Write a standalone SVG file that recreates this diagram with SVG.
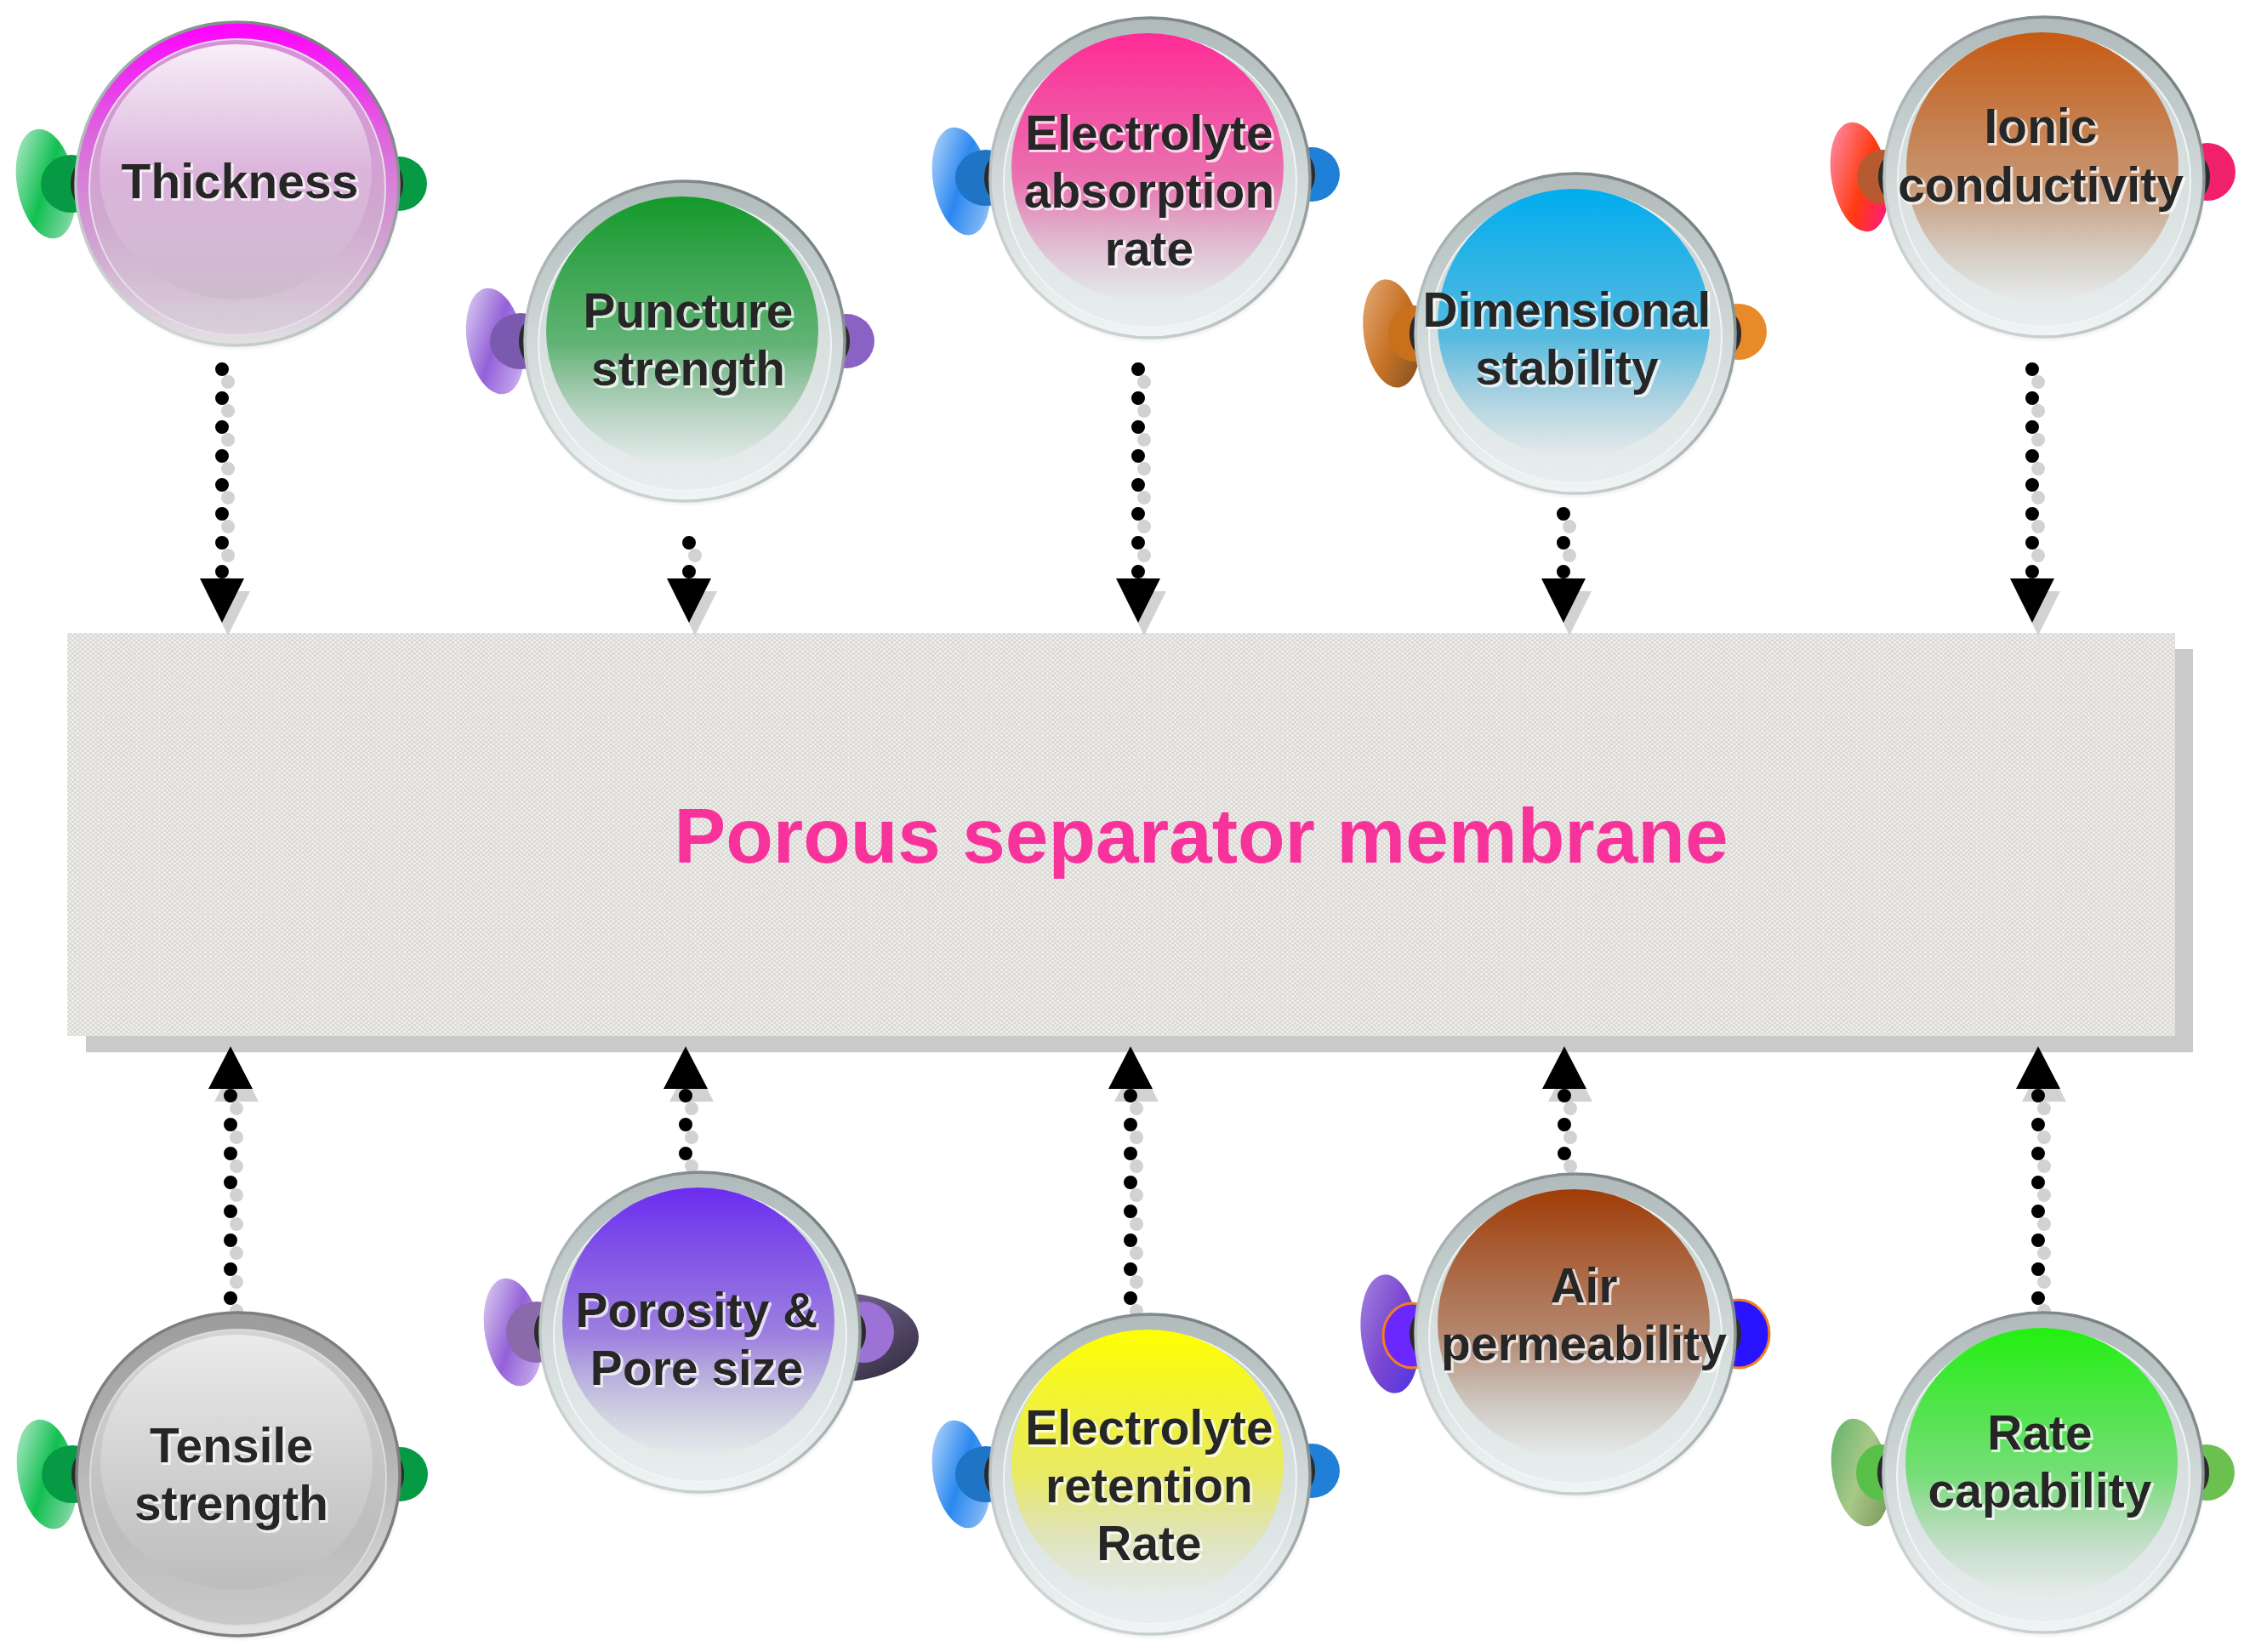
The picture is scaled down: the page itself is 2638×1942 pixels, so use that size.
<svg xmlns="http://www.w3.org/2000/svg" width="2638" height="1942" viewBox="0 0 2638 1942">
<defs>
<style>
.lbl{font-family:"Liberation Sans",Arial,Helvetica,sans-serif;font-weight:bold;font-size:57px;fill:#262626;text-anchor:middle;filter:url(#tglow)}
.title{font-family:"Liberation Sans",Arial,Helvetica,sans-serif;font-weight:bold;font-size:91px;fill:#f7339b;text-anchor:middle}
.ring{fill:url(#gRing);stroke:url(#gEdge);stroke-width:3.5}
.body{fill:url(#gBody);stroke:#f0f5f5;stroke-width:2}
.blk{fill:#2b2b2b}
.dots{fill:none;stroke:#000;stroke-width:16;stroke-linecap:round;stroke-dasharray:0 34}
.sh .dots{stroke:#d2d2d2}
.head{fill:#000}
.sh .head{fill:#d2d2d2}
</style>
<filter id="tglow" x="-10%" y="-30%" width="120%" height="160%">
<feMorphology in="SourceAlpha" operator="dilate" radius="1.2" result="d"/>
<feOffset in="d" dx="2" dy="2" result="o"/>
<feFlood flood-color="#ffffff" flood-opacity="0.75"/>
<feComposite in2="o" operator="in" result="w"/>
<feMerge><feMergeNode in="w"/><feMergeNode in="SourceGraphic"/></feMerge>
</filter>
<pattern id="pores" width="6" height="5.2" patternUnits="userSpaceOnUse">
<rect width="6" height="5.2" fill="#dbd9d5"/>
<circle cx="1.5" cy="1.3" r="1.3" fill="#f7f6f4"/>
<circle cx="4.5" cy="3.9" r="1.3" fill="#f7f6f4"/>
</pattern>
<linearGradient id="gEdge" x1="0.85" y1="0" x2="0.15" y2="1">
<stop offset="0" stop-color="#6c7676"/><stop offset="0.45" stop-color="#a3adad"/><stop offset="1" stop-color="#d5dcdc"/>
</linearGradient>
<linearGradient id="gRing" x1="0" y1="0" x2="0" y2="1">
<stop offset="0" stop-color="#b0baba"/><stop offset="0.5" stop-color="#d0d8d8"/><stop offset="1" stop-color="#f0f4f4"/>
</linearGradient>
<linearGradient id="gBody" x1="0" y1="0" x2="0" y2="1">
<stop offset="0" stop-color="#c8d2d2"/><stop offset="0.6" stop-color="#dbe2e2"/><stop offset="1" stop-color="#e8eeee"/>
</linearGradient>
<radialGradient id="gShadow" cx="0.5" cy="0.5" r="0.5">
<stop offset="0.9" stop-color="#9a9a9a" stop-opacity="0.5"/><stop offset="1" stop-color="#9a9a9a" stop-opacity="0"/>
</radialGradient>
<linearGradient id="gRingTh" x1="0" y1="0" x2="0" y2="1">
<stop offset="0" stop-color="#ff00ff"/><stop offset="0.35" stop-color="#dd66dd"/><stop offset="0.7" stop-color="#cfa6cf"/><stop offset="1" stop-color="#e2e2e2"/>
</linearGradient>
<linearGradient id="gBodyTh" x1="0" y1="0" x2="0" y2="1">
<stop offset="0" stop-color="#d890d8"/><stop offset="0.6" stop-color="#d0a8d0"/><stop offset="1" stop-color="#d8d0d8"/>
</linearGradient>
<linearGradient id="inTh" x1="0" y1="0" x2="0" y2="1">
<stop offset="0" stop-color="#f7eff7"/><stop offset="0.5" stop-color="#dcb4dc"/><stop offset="1" stop-color="#cdbccd"/>
</linearGradient>
<linearGradient id="gRingTe" x1="0" y1="0" x2="0" y2="1">
<stop offset="0" stop-color="#9c9c9c"/><stop offset="0.5" stop-color="#b8b8b8"/><stop offset="1" stop-color="#e4e4e4"/>
</linearGradient>
<linearGradient id="gBodyTe" x1="0" y1="0" x2="0" y2="1">
<stop offset="0" stop-color="#d4d4d4"/><stop offset="0.7" stop-color="#bdbdbd"/><stop offset="1" stop-color="#c8c8c8"/>
</linearGradient>
<linearGradient id="inTe" x1="0" y1="0" x2="0" y2="1">
<stop offset="0" stop-color="#ebebeb"/><stop offset="0.6" stop-color="#cdcdcd"/><stop offset="1" stop-color="#bdbdbd"/>
</linearGradient>
<linearGradient id="inPu" x1="0" y1="0" x2="0" y2="1"><stop offset="0" stop-color="#14992a"/><stop offset="0.55" stop-color="#3aa552" stop-opacity="0.75"/><stop offset="0.85" stop-color="#6fae80" stop-opacity="0.25"/><stop offset="1" stop-color="#6fae80" stop-opacity="0"/></linearGradient>
<linearGradient id="inEa" x1="0" y1="0" x2="0" y2="1"><stop offset="0" stop-color="#ff2b96"/><stop offset="0.55" stop-color="#f04ea0" stop-opacity="0.75"/><stop offset="0.85" stop-color="#e07ab0" stop-opacity="0.25"/><stop offset="1" stop-color="#e07ab0" stop-opacity="0"/></linearGradient>
<linearGradient id="inDi" x1="0" y1="0" x2="0" y2="1"><stop offset="0" stop-color="#00adef"/><stop offset="0.55" stop-color="#2aaee0" stop-opacity="0.75"/><stop offset="0.85" stop-color="#60b4d8" stop-opacity="0.25"/><stop offset="1" stop-color="#60b4d8" stop-opacity="0"/></linearGradient>
<linearGradient id="inIo" x1="0" y1="0" x2="0" y2="1"><stop offset="0" stop-color="#c65a12"/><stop offset="0.55" stop-color="#c27a48" stop-opacity="0.75"/><stop offset="0.85" stop-color="#c09070" stop-opacity="0.25"/><stop offset="1" stop-color="#c09070" stop-opacity="0"/></linearGradient>
<linearGradient id="inPo" x1="0" y1="0" x2="0" y2="1"><stop offset="0" stop-color="#6a2cf0"/><stop offset="0.55" stop-color="#8a60e0" stop-opacity="0.75"/><stop offset="0.85" stop-color="#a090d0" stop-opacity="0.25"/><stop offset="1" stop-color="#a090d0" stop-opacity="0"/></linearGradient>
<linearGradient id="inEr" x1="0" y1="0" x2="0" y2="1"><stop offset="0" stop-color="#ffff00"/><stop offset="0.55" stop-color="#eeee40" stop-opacity="0.75"/><stop offset="0.85" stop-color="#e0e080" stop-opacity="0.25"/><stop offset="1" stop-color="#e0e080" stop-opacity="0"/></linearGradient>
<linearGradient id="inAi" x1="0" y1="0" x2="0" y2="1"><stop offset="0" stop-color="#a03c06"/><stop offset="0.55" stop-color="#a86a4a" stop-opacity="0.75"/><stop offset="0.85" stop-color="#b09080" stop-opacity="0.25"/><stop offset="1" stop-color="#b09080" stop-opacity="0"/></linearGradient>
<linearGradient id="inRa" x1="0" y1="0" x2="0" y2="1"><stop offset="0" stop-color="#22f010"/><stop offset="0.55" stop-color="#55dd55" stop-opacity="0.75"/><stop offset="0.85" stop-color="#90cc90" stop-opacity="0.25"/><stop offset="1" stop-color="#90cc90" stop-opacity="0"/></linearGradient>
<linearGradient id="earG" x1="0" y1="0" x2="1" y2="1"><stop offset="0" stop-color="#22c060" stop-opacity="0.25"/><stop offset="0.5" stop-color="#10c050"/><stop offset="0.8" stop-color="#30c068" stop-opacity="0.7"/><stop offset="1" stop-color="#30c068" stop-opacity="0.2"/></linearGradient>
<linearGradient id="earP" x1="0" y1="0" x2="1" y2="1"><stop offset="0" stop-color="#9a70d8" stop-opacity="0.25"/><stop offset="0.5" stop-color="#9460d8"/><stop offset="0.8" stop-color="#a070e0" stop-opacity="0.7"/><stop offset="1" stop-color="#a070e0" stop-opacity="0.2"/></linearGradient>
<linearGradient id="earB" x1="0" y1="0" x2="1" y2="1"><stop offset="0" stop-color="#2a88f0" stop-opacity="0.25"/><stop offset="0.5" stop-color="#2a88f0"/><stop offset="0.8" stop-color="#3a90f0" stop-opacity="0.7"/><stop offset="1" stop-color="#3a90f0" stop-opacity="0.2"/></linearGradient>
<linearGradient id="earO" x1="0" y1="0" x2="1" y2="1"><stop offset="0" stop-color="#e8b080"/><stop offset="0.5" stop-color="#c87428"/><stop offset="1" stop-color="#7a4a20"/></linearGradient>
<linearGradient id="earR" x1="0" y1="0" x2="1" y2="1"><stop offset="0" stop-color="#ff9ac0"/><stop offset="0.55" stop-color="#ff3a10"/><stop offset="1" stop-color="#ff10a0"/></linearGradient>
<linearGradient id="earV" x1="0" y1="0" x2="1" y2="1"><stop offset="0" stop-color="#a888e0"/><stop offset="0.5" stop-color="#7a48d0"/><stop offset="1" stop-color="#4a30e8"/></linearGradient>
<linearGradient id="earL" x1="0" y1="0" x2="1" y2="1"><stop offset="0" stop-color="#58b068"/><stop offset="0.5" stop-color="#a8c888"/><stop offset="1" stop-color="#709050"/></linearGradient>
<linearGradient id="porR" x1="0" y1="0" x2="1" y2="1"><stop offset="0" stop-color="#8a7aa8"/><stop offset="0.6" stop-color="#54496a"/><stop offset="1" stop-color="#2e2838"/></linearGradient>
</defs>

<rect width="2638" height="1942" fill="#ffffff"/>

<g id="membrane">
<rect x="101" y="763" width="2477" height="474" fill="#cacaca"/>
<rect x="79" y="744" width="2478" height="474" fill="url(#pores)"/>
<text class="title" x="1412" y="1014">Porous separator membrane</text>
</g>

<g id="connectors">
<g class="sh" transform="translate(7,15)">
<path class="dots" d="M261 672V420"/><polygon class="head" points="235,680 287,680 261,732"/>
<path class="dots" d="M810 672V607"/><polygon class="head" points="784,680 836,680 810,732"/>
<path class="dots" d="M1338 672V410"/><polygon class="head" points="1312,680 1364,680 1338,732"/>
<path class="dots" d="M1838 672V598"/><polygon class="head" points="1812,680 1864,680 1838,732"/>
<path class="dots" d="M2389 672V420"/><polygon class="head" points="2363,680 2415,680 2389,732"/>
<path class="dots" d="M271 1288V1530"/><polygon class="head" points="271,1230 245,1280 297,1280"/>
<path class="dots" d="M806 1288V1362"/><polygon class="head" points="806,1230 780,1280 832,1280"/>
<path class="dots" d="M1329 1288V1530"/><polygon class="head" points="1329,1230 1303,1280 1355,1280"/>
<path class="dots" d="M1839 1288V1360"/><polygon class="head" points="1839,1230 1813,1280 1865,1280"/>
<path class="dots" d="M2396 1288V1530"/><polygon class="head" points="2396,1230 2370,1280 2422,1280"/>
</g>
<g>
<path class="dots" d="M261 672V420"/><polygon class="head" points="235,680 287,680 261,732"/>
<path class="dots" d="M810 672V607"/><polygon class="head" points="784,680 836,680 810,732"/>
<path class="dots" d="M1338 672V410"/><polygon class="head" points="1312,680 1364,680 1338,732"/>
<path class="dots" d="M1838 672V598"/><polygon class="head" points="1812,680 1864,680 1838,732"/>
<path class="dots" d="M2389 672V420"/><polygon class="head" points="2363,680 2415,680 2389,732"/>
<path class="dots" d="M271 1288V1530"/><polygon class="head" points="271,1230 245,1280 297,1280"/>
<path class="dots" d="M806 1288V1362"/><polygon class="head" points="806,1230 780,1280 832,1280"/>
<path class="dots" d="M1329 1288V1530"/><polygon class="head" points="1329,1230 1303,1280 1355,1280"/>
<path class="dots" d="M1839 1288V1360"/><polygon class="head" points="1839,1230 1813,1280 1865,1280"/>
<path class="dots" d="M2396 1288V1530"/><polygon class="head" points="2396,1230 2370,1280 2422,1280"/>
</g>
</g>

<g id="node-thickness" transform="translate(279,216)">
<ellipse cx="-225" cy="0" rx="34" ry="65" transform="rotate(-10 -225 0)" fill="url(#earG)"/>
<ellipse cx="-195" cy="0" rx="36" ry="34" fill="#079a45"/>
<ellipse cx="-182" cy="0" rx="14" ry="25" class="blk"/>
<ellipse cx="190" cy="0" rx="33" ry="32" fill="#079a45"/>
<ellipse cx="181" cy="0" rx="14" ry="24" class="blk"/>
<circle cx="2" cy="5" r="192" fill="url(#gShadow)"/>
<circle r="190" fill="url(#gRingTh)" stroke="url(#gEdge)" stroke-width="3.5"/>
<circle cy="4" r="174" fill="url(#gBodyTh)" stroke="#eadcea" stroke-width="2"/>
<ellipse cx="-2" cy="-14" rx="160" ry="150" fill="url(#inTh)"/>
<text class="lbl" x="3" y="17">Thickness</text>
</g>

<g id="node-puncture" transform="translate(805,401)">
<ellipse cx="-223" cy="0" rx="33" ry="63" transform="rotate(-10 -223 0)" fill="url(#earP)"/>
<ellipse cx="-193" cy="0" rx="36" ry="33" fill="#7a5aae"/>
<ellipse cx="-181" cy="0" rx="14" ry="25" class="blk"/>
<ellipse cx="190" cy="0" rx="33" ry="32" fill="#8a62c4"/>
<ellipse cx="180" cy="0" rx="14" ry="24" class="blk"/>
<circle cx="2" cy="5" r="190" fill="url(#gShadow)"/>
<circle r="188" class="ring"/>
<circle cy="4" r="172" class="body"/>
<ellipse cx="-3" cy="-12" rx="160" ry="158" fill="url(#inPu)"/>
<text class="lbl" x="4" y="-16">Puncture</text>
<text class="lbl" x="4" y="52">strength</text>
</g>

<g id="node-electrolyte-absorption" transform="translate(1352,209)">
<ellipse cx="-222" cy="4" rx="33" ry="64" transform="rotate(-10 -222 4)" fill="url(#earB)"/>
<ellipse cx="-193" cy="0" rx="36" ry="33" fill="#1f74c6"/>
<ellipse cx="-181" cy="0" rx="14" ry="25" class="blk"/>
<ellipse cx="190" cy="-4" rx="33" ry="32" fill="#2080d8"/>
<ellipse cx="180" cy="-4" rx="14" ry="24" class="blk"/>
<circle cx="2" cy="5" r="190" fill="url(#gShadow)"/>
<circle r="188" class="ring"/>
<circle cy="4" r="172" class="body"/>
<ellipse cx="-3" cy="-12" rx="160" ry="158" fill="url(#inEa)"/>
<text class="lbl" x="-1" y="-33">Electrolyte</text>
<text class="lbl" x="-1" y="35">absorption</text>
<text class="lbl" x="-1" y="103">rate</text>
</g>

<g id="node-dimensional" transform="translate(1852,392)">
<ellipse cx="-216" cy="0" rx="33" ry="64" transform="rotate(-8 -216 0)" fill="url(#earO)"/>
<ellipse cx="-190" cy="0" rx="30" ry="33" fill="#c8701c"/>
<ellipse cx="-181" cy="0" rx="14" ry="25" class="blk"/>
<ellipse cx="192" cy="-2" rx="33" ry="33" fill="#e8892a"/>
<ellipse cx="181" cy="0" rx="14" ry="24" class="blk"/>
<circle cx="2" cy="5" r="190" fill="url(#gShadow)"/>
<circle r="188" class="ring"/>
<circle cy="4" r="172" class="body"/>
<ellipse cx="-2" cy="-12" rx="160" ry="158" fill="url(#inDi)"/>
<text class="lbl" x="-10" y="-8">Dimensional</text>
<text class="lbl" x="-10" y="60">stability</text>
</g>

<g id="node-ionic" transform="translate(2403,208)">
<ellipse cx="-217" cy="0" rx="33" ry="65" transform="rotate(-10 -217 0)" fill="url(#earR)"/>
<ellipse cx="-190" cy="0" rx="30" ry="32" fill="#b85a30"/>
<ellipse cx="-181" cy="0" rx="14" ry="25" class="blk"/>
<ellipse cx="192" cy="-6" rx="33" ry="34" fill="#f0206a"/>
<ellipse cx="181" cy="0" rx="14" ry="24" class="blk"/>
<circle cx="2" cy="5" r="190" fill="url(#gShadow)"/>
<circle r="188" class="ring"/>
<circle cy="4" r="172" class="body"/>
<ellipse cx="-2" cy="-12" rx="160" ry="158" fill="url(#inIo)"/>
<text class="lbl" x="-4" y="-40">Ionic</text>
<text class="lbl" x="-4" y="29">conductivity</text>
</g>

<g id="node-tensile" transform="translate(280,1733)">
<ellipse cx="-225" cy="0" rx="34" ry="65" transform="rotate(-10 -225 0)" fill="url(#earG)"/>
<ellipse cx="-195" cy="0" rx="36" ry="34" fill="#079a45"/>
<ellipse cx="-182" cy="0" rx="14" ry="25" class="blk"/>
<ellipse cx="190" cy="0" rx="33" ry="32" fill="#079a45"/>
<ellipse cx="181" cy="0" rx="14" ry="24" class="blk"/>
<circle cx="2" cy="5" r="192" fill="url(#gShadow)"/>
<circle r="190" fill="url(#gRingTe)" stroke="#7e7e7e" stroke-width="3.5"/>
<circle cy="4" r="174" fill="url(#gBodyTe)" stroke="#dcdcdc" stroke-width="2"/>
<ellipse cx="-2" cy="-14" rx="160" ry="150" fill="url(#inTe)"/>
<text class="lbl" x="-8" y="-14">Tensile</text>
<text class="lbl" x="-8" y="54">strength</text>
</g>

<g id="node-porosity" transform="translate(823,1566)">
<ellipse cx="-220" cy="0" rx="33" ry="64" transform="rotate(-10 -220 0)" fill="url(#earP)"/>
<ellipse cx="-192" cy="0" rx="36" ry="36" fill="#8a6aaa"/>
<ellipse cx="-181" cy="0" rx="14" ry="25" class="blk"/>
<ellipse cx="165" cy="6" rx="92" ry="52" fill="url(#porR)"/>
<ellipse cx="192" cy="0" rx="36" ry="36" fill="#9c72d6"/>
<ellipse cx="181" cy="0" rx="14" ry="24" class="blk"/>
<circle cx="2" cy="5" r="190" fill="url(#gShadow)"/>
<circle r="188" class="ring"/>
<circle cy="4" r="172" class="body"/>
<ellipse cx="-2" cy="-12" rx="160" ry="158" fill="url(#inPo)"/>
<text class="lbl" x="-4" y="-6">Porosity &amp;</text>
<text class="lbl" x="-4" y="62">Pore size</text>
</g>

<g id="node-electrolyte-retention" transform="translate(1352,1733)">
<ellipse cx="-222" cy="0" rx="33" ry="64" transform="rotate(-10 -222 0)" fill="url(#earB)"/>
<ellipse cx="-193" cy="0" rx="36" ry="33" fill="#1f74c6"/>
<ellipse cx="-181" cy="0" rx="14" ry="25" class="blk"/>
<ellipse cx="190" cy="-4" rx="33" ry="32" fill="#2080d8"/>
<ellipse cx="180" cy="-4" rx="14" ry="24" class="blk"/>
<circle cx="2" cy="5" r="190" fill="url(#gShadow)"/>
<circle r="188" class="ring"/>
<circle cy="4" r="172" class="body"/>
<ellipse cx="-3" cy="-12" rx="160" ry="158" fill="url(#inEr)"/>
<text class="lbl" x="-1" y="-35">Electrolyte</text>
<text class="lbl" x="-1" y="33">retention</text>
<text class="lbl" x="-1" y="101">Rate</text>
</g>

<g id="node-air" transform="translate(1852,1568)">
<ellipse cx="-218" cy="0" rx="34" ry="70" transform="rotate(-6 -218 0)" fill="url(#earV)"/>
<ellipse cx="-192" cy="2" rx="34" ry="38" fill="#6a28ff" stroke="#f08020" stroke-width="3"/>
<ellipse cx="-181" cy="0" rx="14" ry="25" class="blk"/>
<ellipse cx="192" cy="0" rx="36" ry="40" fill="#2a14ff" stroke="#f08020" stroke-width="3"/>
<ellipse cx="181" cy="0" rx="14" ry="24" class="blk"/>
<circle cx="2" cy="5" r="190" fill="url(#gShadow)"/>
<circle r="188" class="ring"/>
<circle cy="4" r="172" class="body"/>
<ellipse cx="-2" cy="-12" rx="160" ry="158" fill="url(#inAi)"/>
<text class="lbl" x="10" y="-37">Air</text>
<text class="lbl" x="10" y="31">permeability</text>
</g>

<g id="node-rate" transform="translate(2402,1731)">
<ellipse cx="-215" cy="0" rx="33" ry="64" transform="rotate(-10 -215 0)" fill="url(#earL)"/>
<ellipse cx="-190" cy="0" rx="30" ry="33" fill="#58c048"/>
<ellipse cx="-181" cy="0" rx="14" ry="25" class="blk"/>
<ellipse cx="192" cy="0" rx="33" ry="33" fill="#6cc050"/>
<ellipse cx="181" cy="0" rx="14" ry="24" class="blk"/>
<circle cx="2" cy="5" r="190" fill="url(#gShadow)"/>
<circle r="188" class="ring"/>
<circle cy="4" r="172" class="body"/>
<ellipse cx="-2" cy="-12" rx="160" ry="158" fill="url(#inRa)"/>
<text class="lbl" x="-4" y="-27">Rate</text>
<text class="lbl" x="-4" y="41">capability</text>
</g>
</svg>
